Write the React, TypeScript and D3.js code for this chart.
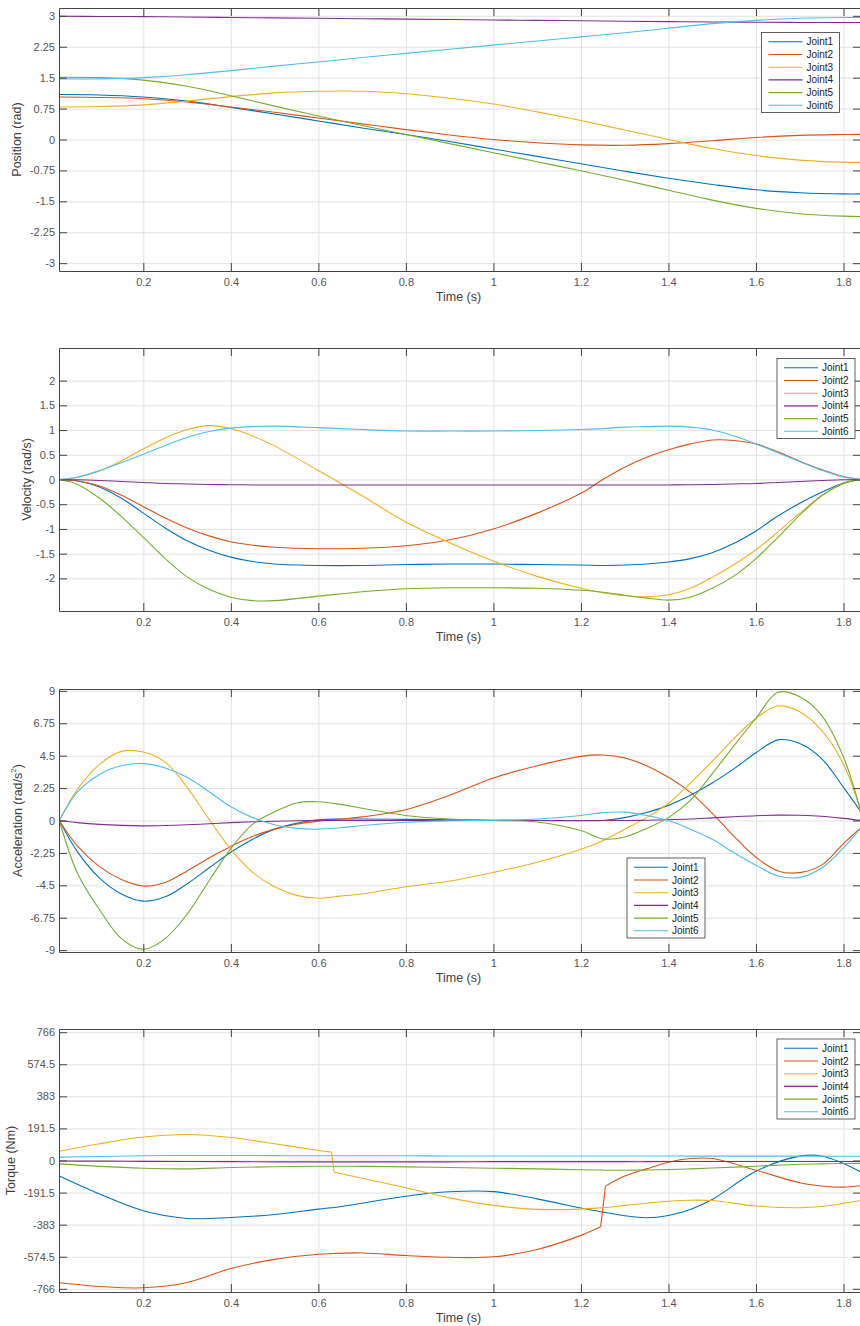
import React, { useEffect, useRef } from "react";
import * as d3 from "d3";

const jointNames = ["Joint1", "Joint2", "Joint3", "Joint4", "Joint5", "Joint6"];
const jointColors = ["#0072BD", "#D95319", "#EDB120", "#7E2F8E", "#77AC30", "#4DBEEE"];

const xTicks = [0.2, 0.4, 0.6, 0.8, 1, 1.2, 1.4, 1.6, 1.8];
const posTicks = [-3, -2.25, -1.5, -0.75, 0, 0.75, 1.5, 2.25, 3];
const velTicks = [-2, -1.5, -1, -0.5, 0, 0.5, 1, 1.5, 2];
const accTicks = [-9, -6.75, -4.5, -2.25, 0, 2.25, 4.5, 6.75, 9];
const torTicks = [-766, -574.5, -383, -191.5, 0, 191.5, 383, 574.5, 766];

// position (rad)
const posTime = [0.008, 0.1, 0.2, 0.3, 0.4, 0.5, 0.6, 0.7, 0.8, 0.9, 1.0, 1.1, 1.2, 1.3, 1.4, 1.5, 1.6, 1.7, 1.8, 1.84];
const posJ1 = [1.09, 1.08, 1.03, 0.93, 0.78, 0.62, 0.45, 0.28, 0.12, -0.05, -0.23, -0.41, -0.59, -0.77, -0.94, -1.09, -1.22, -1.29, -1.32, -1.32];
const posJ2 = [1.03, 1.02, 0.99, 0.91, 0.79, 0.66, 0.52, 0.38, 0.24, 0.11, 0.0, -0.08, -0.13, -0.14, -0.1, -0.03, 0.05, 0.1, 0.12, 0.125];
const posJ3 = [0.79, 0.8, 0.84, 0.93, 1.04, 1.13, 1.17, 1.17, 1.11, 1.0, 0.86, 0.67, 0.46, 0.23, 0.0, -0.22, -0.39, -0.5, -0.55, -0.555];
const posJ4 = [2.99, 2.985, 2.98, 2.97, 2.96, 2.95, 2.94, 2.93, 2.92, 2.91, 2.9, 2.89, 2.88, 2.87, 2.86, 2.85, 2.845, 2.84, 2.84, 2.84];
const posJ5 = [1.51, 1.5, 1.44, 1.29, 1.06, 0.81, 0.57, 0.34, 0.12, -0.1, -0.32, -0.54, -0.76, -0.99, -1.23, -1.47, -1.67, -1.8, -1.86, -1.87];
const posJ6 = [1.47, 1.47, 1.5, 1.57, 1.67, 1.78, 1.88, 1.99, 2.09, 2.19, 2.29, 2.39, 2.49, 2.59, 2.7, 2.81, 2.89, 2.94, 2.96, 2.96];

// velocity (rad/s)
const velTime = [0.008, 0.05, 0.1, 0.15, 0.2, 0.25, 0.3, 0.35, 0.4, 0.45, 0.5, 0.6, 0.7, 0.8, 0.9, 1.0, 1.1, 1.2, 1.25, 1.3, 1.35, 1.4, 1.45, 1.5, 1.55, 1.6, 1.65, 1.7, 1.75, 1.8, 1.84];
const velJ1 = [0, -0.03, -0.15, -0.38, -0.68, -0.98, -1.24, -1.43, -1.57, -1.66, -1.71, -1.74, -1.74, -1.72, -1.71, -1.71, -1.72, -1.73, -1.74, -1.73, -1.71, -1.67, -1.6, -1.48, -1.29, -1.04, -0.74, -0.48, -0.26, -0.07, 0];
const velJ2 = [0, -0.03, -0.13, -0.32, -0.55, -0.78, -0.98, -1.14, -1.26, -1.33, -1.37, -1.4, -1.39, -1.34, -1.22, -1.0, -0.68, -0.28, 0.0, 0.25, 0.45, 0.6, 0.72, 0.8, 0.79, 0.72, 0.56, 0.37, 0.2, 0.06, 0];
const velJ3 = [0, 0.04, 0.17, 0.38, 0.62, 0.84, 1.01, 1.09, 1.03, 0.88, 0.68, 0.18, -0.33, -0.86, -1.28, -1.65, -1.96, -2.2, -2.29, -2.35, -2.37, -2.33, -2.2, -1.98, -1.72, -1.42, -1.06, -0.68, -0.33, -0.08, 0];
const velJ4 = [0, -0.005, -0.02, -0.04, -0.06, -0.08, -0.09, -0.1, -0.105, -0.11, -0.11, -0.11, -0.11, -0.11, -0.11, -0.11, -0.11, -0.11, -0.11, -0.11, -0.11, -0.11, -0.105, -0.1, -0.09, -0.08, -0.06, -0.04, -0.02, -0.005, 0];
const velJ5 = [0, -0.1, -0.38, -0.75, -1.17, -1.6, -1.97, -2.22, -2.38, -2.45, -2.45, -2.36, -2.27, -2.21, -2.19, -2.19, -2.2, -2.24, -2.28, -2.34, -2.4, -2.44, -2.38, -2.2, -1.95, -1.6, -1.17, -0.72, -0.33, -0.08, 0];
const velJ6 = [0, 0.05, 0.18, 0.34, 0.51, 0.69, 0.85, 0.97, 1.04, 1.07, 1.08, 1.05, 1.01, 0.98, 0.98, 0.98, 0.99, 1.01, 1.03, 1.06, 1.07, 1.08, 1.06, 1.0, 0.88, 0.72, 0.54, 0.36, 0.19, 0.05, 0];

// acceleration (rad/s^2)
const accTime = [0.008, 0.05, 0.1, 0.15, 0.2, 0.25, 0.3, 0.35, 0.4, 0.45, 0.5, 0.55, 0.6, 0.65, 0.7, 0.8, 0.9, 1.0, 1.1, 1.2, 1.25, 1.3, 1.35, 1.4, 1.45, 1.5, 1.55, 1.6, 1.65, 1.7, 1.75, 1.8, 1.84];
const accJ1 = [0, -2.2, -4.0, -5.1, -5.6, -5.3, -4.4, -3.3, -2.2, -1.3, -0.6, -0.2, 0.05, 0.1, 0.1, 0.08, 0.05, 0.02, 0.0, -0.02, 0.0, 0.2, 0.55, 1.05, 1.75, 2.6, 3.6, 4.7, 5.6, 5.35, 4.3, 2.3, 0.6];
const accJ2 = [0, -1.8, -3.2, -4.1, -4.55, -4.3, -3.5, -2.6, -1.8, -1.1, -0.6, -0.25, -0.05, 0.1, 0.25, 0.75, 1.75, 2.95, 3.8, 4.45, 4.55, 4.35, 3.8, 3.0, 1.95, 0.5, -1.1, -2.55, -3.5, -3.62, -3.1, -1.6, -0.5];
const accJ3 = [0, 2.2, 3.9, 4.8, 4.75, 4.05, 2.3, 0.1, -2.0, -3.6, -4.6, -5.2, -5.4, -5.25, -5.1, -4.6, -4.2, -3.6, -2.9, -2.0, -1.4, -0.6, 0.2, 1.2, 2.6, 4.1, 5.7, 7.1, 7.95, 7.55, 6.25, 3.9, 0.6];
const accJ4 = [0, -0.15, -0.27, -0.34, -0.37, -0.35, -0.3, -0.23, -0.15, -0.09, -0.05, -0.02, 0, 0, 0, 0, 0, 0, 0, 0, 0, 0, 0.02, 0.05, 0.1, 0.18, 0.26, 0.33, 0.37, 0.36, 0.3, 0.15, 0];
const accJ5 = [0, -3.7, -6.2, -8.2, -8.95, -8.2, -6.5, -4.2, -1.95, -0.25, 0.6, 1.22, 1.3, 1.12, 0.85, 0.35, 0.1, 0.0, -0.1, -0.7, -1.28, -1.15, -0.55, 0.2, 1.4, 3.25, 5.2, 7.1, 8.9, 8.6, 7.3, 4.4, 0.6];
const accJ6 = [0, 2.0, 3.2, 3.8, 3.95, 3.65, 3.0, 2.0, 0.95, 0.2, -0.3, -0.55, -0.6, -0.5, -0.35, -0.12, -0.02, 0.02, 0.1, 0.35, 0.55, 0.58, 0.35, 0.0, -0.6, -1.3, -2.25, -3.1, -3.85, -3.95, -3.3, -1.9, -0.5];

// torque (Nm)
const torTime = [0.008, 0.1, 0.2, 0.3, 0.4, 0.5, 0.6, 0.63, 0.636, 0.7, 0.8, 0.9, 1.0, 1.1, 1.2, 1.245, 1.256, 1.3, 1.35, 1.4, 1.45, 1.5, 1.6, 1.7, 1.75, 1.8, 1.84];
const torJ1 = [-93, -200, -300, -346, -340, -322, -290, -282, -281, -255, -213, -187, -186, -229, -284, -306, -310, -330, -342, -328, -292, -233, -64, 26, 27, -18, -70];
const torJ2 = [-730, -752, -760, -728, -645, -590, -560, -556, -555, -552, -567, -578, -575, -531, -447, -396, -153, -93, -50, -10, 12, 12, -58, -133, -152, -159, -150];
const torJ3 = [55, 100, 140, 155, 137, 100, 60, 50, -70, -106, -163, -223, -268, -292, -290, -283, -281, -268, -255, -243, -237, -239, -272, -282, -275, -256, -238];
const torJ4 = [-3, -4, -5, -6, -7, -8, -8, -8, -8, -8, -8, -8, -7, -7, -7, -7, -7, -7, -7, -6, -6, -6, -6, -6, -6, -6, -6];
const torJ5 = [-20, -35, -46, -50, -42, -37, -34, -34, -34, -35, -38, -42, -46, -50, -55, -57, -58, -58, -57, -54, -50, -45, -34, -22, -20, -18, -17];
const torJ6 = [20, 24, 28, 30, 30, 29, 28, 28, 28, 28, 28, 27, 27, 27, 27, 27, 27, 27, 27, 27, 26, 26, 26, 26, 26, 25, 25];
// sample index after which a series jumps (drawn as a straight step)
const torJumps = [[], [15], [7], [], [], []];

const FONT = "'Liberation Sans', Arial, Helvetica, sans-serif";

// split one series into smooth pieces + straight jump pieces
function pieces(t: number[], v: number[], jumps: number[]) {
    const pts = v.map((d, i) => [t[i], d]);
    const out: number[][][] = [];
    let start = 0;
    jumps.forEach(function (k) {
        out.push(pts.slice(start, k + 1));
        out.push(pts.slice(k, k + 2));
        start = k + 1;
    });
    out.push(pts.slice(start));
    return out;
}

export default function App() {
    const ref = useRef<SVGSVGElement>(null);

    useEffect(() => {
        document.body.style.margin = "0";
        const svg = d3.select(ref.current);
        svg.selectAll("*").remove();

        const noJumps = [[], [], [], [], [], []];
        const panels = [
            { top: 8, lim: 3.19, ticks: posTicks, t: posTime, series: [posJ1, posJ2, posJ3, posJ4, posJ5, posJ6], jumps: noJumps, label: "Position (rad)", labelX: 17, legend: [761.5, 32.5] },
            { top: 348, lim: 2.66, ticks: velTicks, t: velTime, series: [velJ1, velJ2, velJ3, velJ4, velJ5, velJ6], jumps: noJumps, label: "Velocity (rad/s)", labelX: 27, legend: [777, 358.5] },
            { top: 689, lim: 9.13, ticks: accTicks, t: accTime, series: [accJ1, accJ2, accJ3, accJ4, accJ5, accJ6], jumps: noJumps, label: "Acceleration (rad/s", labelX: 18, legend: [627, 858], sup: true },
            { top: 1029, lim: 785, ticks: torTicks, t: torTime, series: [torJ1, torJ2, torJ3, torJ4, torJ5, torJ6], jumps: torJumps, label: "Torque (Nm)", labelX: 11, legend: [777, 1039] },
        ];

        const left = 59, right = 861, h = 263;
        const x = d3.scaleLinear().domain([0.0073, 1.84]).range([left, right]);
        const axisColor = "#444";

        panels.forEach(function (p, pi) {
            const bottom = p.top + h;
            const y = d3.scaleLinear().domain([-p.lim, p.lim]).range([bottom, p.top]);
            const g = svg.append("g").style("font-family", FONT);

            // gridlines
            g.append("g")
                .attr("transform", `translate(0,${bottom})`)
                .call(d3.axisBottom(x).tickValues(xTicks).tickSize(-h).tickFormat(() => ""))
                .call(s => s.select(".domain").remove())
                .selectAll("line").attr("stroke", "#e2e2e2");
            g.append("g")
                .attr("transform", `translate(${left},0)`)
                .call(d3.axisLeft(y).tickValues(p.ticks).tickSize(-(right - left)).tickFormat(() => ""))
                .call(s => s.select(".domain").remove())
                .selectAll("line").attr("stroke", "#e2e2e2");

            const clipId = "clip" + pi;
            g.append("clipPath").attr("id", clipId)
                .append("rect").attr("x", left).attr("y", p.top).attr("width", right - left).attr("height", h);

            const line = d3.line<number[]>()
                .x(d => x(d[0]))
                .y(d => y(d[1]))
                .curve(d3.curveCatmullRom.alpha(0.5));

            const lines = g.append("g").attr("clip-path", `url(#${clipId})`);
            p.series.forEach(function (s, i) {
                lines.selectAll(null)
                    .data(pieces(p.t, s, p.jumps[i]))
                    .enter()
                    .append("path")
                    .attr("d", d => line(d))
                    .attr("fill", "none")
                    .attr("stroke", jointColors[i])
                    .attr("stroke-width", 1.1);
            });

            // axes (box with inward ticks)
            const styleAxis = function (s) {
                s.select(".domain").attr("stroke", axisColor);
                s.selectAll(".tick line").attr("stroke", axisColor);
                s.selectAll("text").attr("fill", "#555").style("font-size", "11px").style("font-family", FONT);
            };
            g.append("g").attr("transform", `translate(0,${bottom})`)
                .call(d3.axisBottom(x).tickValues(xTicks).tickSize(-8).tickSizeOuter(0).tickPadding(7).tickFormat(d => String(d)))
                .call(styleAxis);
            g.append("g").attr("transform", `translate(0,${p.top})`)
                .call(d3.axisTop(x).tickValues(xTicks).tickSize(-8).tickSizeOuter(0).tickFormat(() => ""))
                .call(styleAxis);
            g.append("g").attr("transform", `translate(${left},0)`)
                .call(d3.axisLeft(y).tickValues(p.ticks).tickSize(-8).tickSizeOuter(0).tickPadding(4).tickFormat(d => String(d)))
                .call(styleAxis);
            g.append("g").attr("transform", `translate(${right},0)`)
                .call(d3.axisRight(y).tickValues(p.ticks).tickSize(-8).tickSizeOuter(0).tickFormat(() => ""))
                .call(styleAxis);

            // labels
            g.append("text")
                .attr("x", (left + 858) / 2)
                .attr("y", bottom + 30)
                .attr("text-anchor", "middle")
                .attr("fill", "#404040")
                .style("font-size", "12.5px")
                .text("Time (s)");

            const yl = g.append("text")
                .attr("transform", `translate(${p.labelX},${p.top + h / 2}) rotate(-90)`)
                .attr("text-anchor", "middle")
                .attr("dominant-baseline", "central")
                .attr("fill", "#404040")
                .style("font-size", "12.5px");
            yl.append("tspan").text(p.label);
            if (p.sup) {
                yl.append("tspan").attr("baseline-shift", "super").style("font-size", "8px").text("2");
                yl.append("tspan").text(")");
            }

            // legend
            const [lx, ly] = p.legend;
            const lg = g.append("g").attr("transform", `translate(${lx},${ly})`);
            lg.append("rect")
                .attr("width", 78).attr("height", 80)
                .attr("fill", "white").attr("stroke", "#3a3a3a").attr("stroke-width", 0.8);
            jointNames.forEach(function (name, i) {
                const yy = 9.3 + i * 12.7;
                lg.append("line")
                    .attr("x1", 7).attr("x2", 41).attr("y1", yy).attr("y2", yy)
                    .attr("stroke", jointColors[i]).attr("stroke-width", 1.1);
                lg.append("text")
                    .attr("x", 45).attr("y", yy)
                    .attr("dominant-baseline", "central")
                    .attr("fill", "#222")
                    .style("font-size", "10px")
                    .text(name);
            });
        });
    }, []);

    return <svg ref={ref} width={860} height={1326} style={{ display: "block" }} />;
}
